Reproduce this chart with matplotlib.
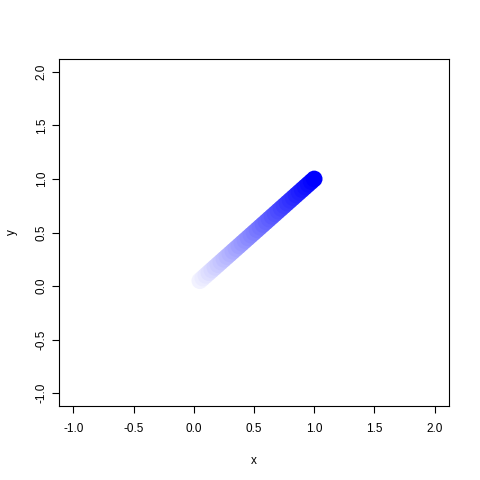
import numpy as np
import matplotlib.pyplot as plt

# data: points along the diagonal, shade goes with the value
x = [0.050, 0.075, 0.100, 0.125, 0.150, 0.175, 0.200, 0.225, 0.250, 0.275,
     0.300, 0.325, 0.350, 0.375, 0.400, 0.425, 0.450, 0.475, 0.500, 0.525,
     0.550, 0.575, 0.600, 0.625, 0.650, 0.675, 0.700, 0.725, 0.750, 0.775,
     0.800, 0.825, 0.850, 0.875, 0.900, 0.925, 0.950, 0.975, 1.000]
y = list(x)
ticks = [-1.0, -0.5, 0.0, 0.5, 1.0, 1.5, 2.0]
tick_labels = ["-1.0", "-0.5", "0.0", "0.5", "1.0", "1.5", "2.0"]

# white -> blue ramp
xa = np.array(x)
colors = np.column_stack([1 - xa, 1 - xa, np.ones_like(xa)])

plt.rcParams['font.family'] = ['Liberation Sans', 'DejaVu Sans']
fig = plt.figure(figsize=(4.8, 4.8), dpi=100)
ax = fig.add_axes([59/480, 74/480, 390/480, 347/480])

ax.scatter(x, y, s=12**2, c=colors, edgecolors='none', zorder=3)

ax.set_xlim(-1.12, 2.12)
ax.set_ylim(-1.12, 2.12)
ax.set_xticks(ticks)
ax.set_xticklabels(tick_labels)
ax.set_yticks(ticks)
ax.set_yticklabels(tick_labels, rotation=90, va='center')
ax.tick_params(labelsize=8.5, length=5, width=0.8)
ax.tick_params(axis='x', pad=7)
ax.tick_params(axis='y', pad=3)
for s in ax.spines.values():
    s.set_linewidth(0.8)
ax.set_xlabel("x", fontsize=8.5, labelpad=15)
ax.set_ylabel("y", fontsize=8.5, labelpad=13)

fig.savefig("out.png", dpi=100)
